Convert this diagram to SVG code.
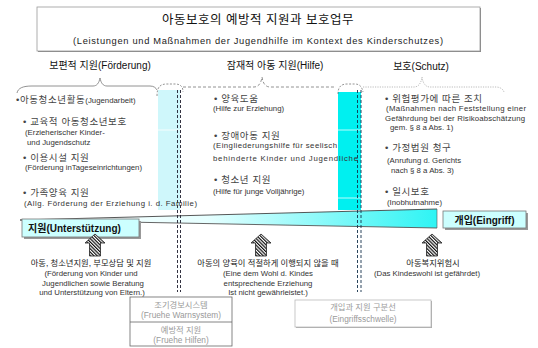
<svg xmlns="http://www.w3.org/2000/svg" xmlns:xlink="http://www.w3.org/1999/xlink" width="538" height="348" viewBox="0 0 538 348">
<defs>
<style>
text{font-family:"Liberation Sans","Noto Sans CJK KR",sans-serif;}
.ko{font-size:9.5px;fill:#444;letter-spacing:0.6px;}
.de{font-size:7.8px;fill:#333;}
.hd{font-size:10px;fill:#111;}
.bt{font-size:8.3px;fill:#222;text-anchor:middle;}
.bd{font-size:7.8px;fill:#333;text-anchor:middle;}
.gr{font-size:8.3px;fill:#9a9a9a;text-anchor:middle;}
.dash{stroke:#1c1c2c;stroke-width:0.9;stroke-dasharray:3 2;fill:none;}
.dashm{stroke:#12304a;stroke-width:0.9;stroke-dasharray:3 2;fill:none;}
.bx{font-size:10px;font-weight:bold;fill:#111;}
</style>
<pattern id="hatch" width="2.4" height="2.4" patternUnits="userSpaceOnUse" patternTransform="rotate(-45)">
<rect width="2.4" height="2.4" fill="#fff"/>
<line x1="0.6" y1="0" x2="0.6" y2="2.4" stroke="#111" stroke-width="1.2"/>
</pattern>
<linearGradient id="wedgeGrad" x1="0" y1="0" x2="1" y2="0">
<stop offset="0" stop-color="#ffffff"/>
<stop offset="0.45" stop-color="#e6ffff"/>
<stop offset="1" stop-color="#2ef4f4"/>
</linearGradient>
<path id="uparrow" d="M0,0 L10,9 L5.5,9 L5.5,22 L-5.5,22 L-5.5,9 L-10,9 Z" fill="url(#hatch)" stroke="#222" stroke-width="0.8"/>
</defs>
<rect width="538" height="348" fill="#fff"/>

<g id="title">
<rect x="38" y="8" width="443" height="44" fill="#888"/>
<rect x="37" y="7" width="443" height="44" fill="#fff" stroke="#999" stroke-width="0.8"/>
<text x="258" y="24" font-size="12.5" text-anchor="middle" fill="#111" letter-spacing="0.5">아동보호의 예방적 지원과 보호업무</text>
<text x="258" y="44" font-size="9.3" text-anchor="middle" fill="#222" textLength="370">(Leistungen und Maßnahmen der Jugendhilfe im Kontext des Kinderschutzes)</text>
</g>

<g id="columns">
<rect x="158" y="90" width="22" height="120" fill="#cff7fb"/>
<line x1="158" y1="130" x2="180" y2="130" stroke="#fff" stroke-width="0.8"/>
<rect x="338" y="92" width="23" height="118" fill="#00f0f0"/>
<line x1="338" y1="130" x2="361" y2="130" stroke="#e8ffff" stroke-width="0.8"/>
<line x1="338" y1="198" x2="361" y2="198" stroke="#e8ffff" stroke-width="0.8"/>
</g>

<g id="wedge">
<polygon points="20,220 437,209 437,228" fill="url(#wedgeGrad)"/>
<line x1="20" y1="220" x2="437" y2="209" stroke="#444" stroke-width="0.9"/>
<line x1="20" y1="220" x2="437" y2="228" stroke="#555" stroke-width="0.9"/>
<line x1="437" y1="209" x2="437" y2="228" stroke="#555" stroke-width="0.6"/>
</g>

<g id="dividers">
<line class="dash" x1="177.5" y1="90" x2="177.5" y2="292"/>
<line class="dash" x1="180.5" y1="90" x2="180.5" y2="292"/>
<line class="dashm" x1="357.5" y1="90" x2="357.5" y2="292"/>
<line class="dashm" x1="361" y1="90" x2="361" y2="292"/>
</g>

<g id="braces" fill="none">
<path d="M17,93 C18,88 23,86 32,86 L93,86 C97,86 99,83 100,78 C101,83 103,86 107,86 L150,86 C154,86 156,88 157,90" stroke="#777" stroke-width="0.8"/>
<path d="M157,96 C157,87 160,84 167,84 L175,84 C181,84 183,87 183,92" stroke="#666" stroke-width="0.7" stroke-dasharray="2 1.5"/>
<path d="M183,87 L254,87 C258,87 261,84 262,77 C263,84 266,87 270,87 L336,87" stroke="#777" stroke-width="0.8" stroke-dasharray="3 2"/>
<path d="M338,94 C338,87 341,84 347,84 L355,84 C360,84 362,87 363,92" stroke="#666" stroke-width="0.7" stroke-dasharray="2 1.5"/>
<path d="M363,87 L414,87 C418,87 421,84 422,77 C423,84 426,87 430,87 L496,87 C500,87 503,89 504,92" stroke="#aaa" stroke-width="0.8" stroke-dasharray="1.2 1.2"/>
</g>

<g id="header-foerderung">
<text class="hd" x="100" y="69" text-anchor="middle">보편적 지원(Förderung)</text>
</g>
<g id="header-hilfe">
<text class="hd" x="275" y="69" text-anchor="middle">잠재적 아동 지원(Hilfe)</text>
</g>
<g id="header-schutz">
<text class="hd" x="421" y="70" text-anchor="middle">보호(Schutz)</text>
</g>

<g id="list-foerderung">
<text x="16" y="102.5"><tspan class="ko">•아동청소년활동</tspan><tspan class="de">(Jugendarbeit)</tspan></text>
<text class="ko" x="23" y="124.5">• 교육적 아동청소년보호</text>
<text class="de" x="25" y="135">(Erzieherischer Kinder-</text>
<text class="de" x="27" y="145">und Jugendschutz</text>
<text class="ko" x="23" y="160.5">• 이용시설 지원</text>
<text class="de" x="25" y="170">(Förderung inTageseinrichtungen)</text>
<text class="ko" x="23" y="195.5">• 가족양육 지원</text>
<text class="de" x="24" y="206" textLength="173">(Allg. Förderung der Erziehung i. d. Familie)</text>
</g>

<g id="list-hilfe">
<text class="ko" x="214" y="101.5">• 양육도움</text>
<text class="de" x="213" y="111">(Hilfe zur Erziehung)</text>
<text class="ko" x="214" y="138.5">• 장애아동 지원</text>
<text class="de" x="213" y="148" textLength="124">(Eingliederungshilfe für seelisch</text>
<text class="de" x="213" y="161" textLength="145">behinderte Kinder  und  Jugendliche</text>
<text class="ko" x="214" y="182.5">• 청소년 지원</text>
<text class="de" x="213" y="194">(Hilfe für junge Volljährige)</text>
</g>

<g id="list-schutz">
<text class="ko" x="385" y="101.5">• 위험평가에 따른 조치</text>
<text class="de" x="386" y="111" textLength="140">(Maßnahmen nach Feststellung einer</text>
<text class="de" x="385" y="121" textLength="140">Gefährdung bei der Risikoabschätzung</text>
<text class="de" x="390" y="130">gem. § 8 a Abs. 1)</text>
<text class="ko" x="385" y="150.5">• 가정법원 청구</text>
<text class="de" x="387" y="163">(Anrufung d. Gerichts</text>
<text class="de" x="391" y="173">nach § 8 a Abs. 3)</text>
<text class="ko" x="385" y="194.5">• 일시보호</text>
<text class="de" x="387" y="205">(Inobhutnahme)</text>
</g>

<g id="box-unterstuetzung">
<rect x="24" y="221" width="117" height="18" fill="#999"/>
<rect x="22" y="219" width="117" height="18" fill="#ccffff" stroke="#777" stroke-width="0.8"/>
<text class="bx" x="28" y="232">지원(Unterstützung)</text>
</g>

<g id="box-eingriff">
<rect x="445" y="213" width="83" height="17" fill="#999"/>
<rect x="443" y="211" width="83" height="17" fill="#ccffff" stroke="#777" stroke-width="0.8"/>
<text class="bx" x="484.5" y="223.5" text-anchor="middle">개입(Eingriff)</text>
</g>

<g id="connectors">
<use xlink:href="#uparrow" href="#uparrow" x="95" y="234"/>
<use xlink:href="#uparrow" href="#uparrow" x="261" y="234"/>
<use xlink:href="#uparrow" href="#uparrow" x="432" y="234"/>
</g>

<g id="note-foerderung">
<text class="bt" x="91" y="266">아동, 청소년지원, 부모상담 및 지원</text>
<text class="bd" x="91" y="276">(Förderung von Kinder und</text>
<text class="bd" x="93" y="285.5">Jugendlichen sowie Beratung</text>
<text class="bd" x="92" y="295">und Unterstützung von Eltern.)</text>
</g>

<g id="note-hilfe">
<text class="bt" x="268" y="266">아동의 양육이 적절하게 이행되지 않을 때</text>
<text class="bd" x="268" y="276">(Eine dem Wohl d. Kindes</text>
<text class="bd" x="268" y="285.5">entsprechende Erziehung</text>
<text class="bd" x="268" y="295">Ist nicht gewährleistet.)</text>
</g>

<g id="note-schutz">
<text class="bt" x="433" y="266">아동복지위험시</text>
<text class="bd" x="427" y="276">(Das Kindeswohl ist gefährdet)</text>
</g>

<g id="box-fruehe">
<rect x="130" y="297" width="102" height="49" fill="#fff" stroke="#666" stroke-width="0.8"/>
<line x1="130" y1="322" x2="232" y2="322" stroke="#666" stroke-width="0.8"/>
<text class="gr" x="181" y="308">조기경보시스템</text>
<text class="gr" x="181" y="318">(Fruehe Warnsystem)</text>
<text class="gr" x="181" y="333">예방적 지원</text>
<text class="gr" x="181" y="343">(Fruehe Hilfen)</text>
</g>

<g id="box-schwelle">
<rect x="296" y="301" width="136" height="27" fill="#aaa"/>
<rect x="295" y="300" width="136" height="27" fill="#fff" stroke="#bbb" stroke-width="0.8"/>
<text class="gr" x="363" y="310">개입과 지원 구분선</text>
<text class="gr" x="363" y="322">(Eingriffsschwelle)</text>
</g>
</svg>
